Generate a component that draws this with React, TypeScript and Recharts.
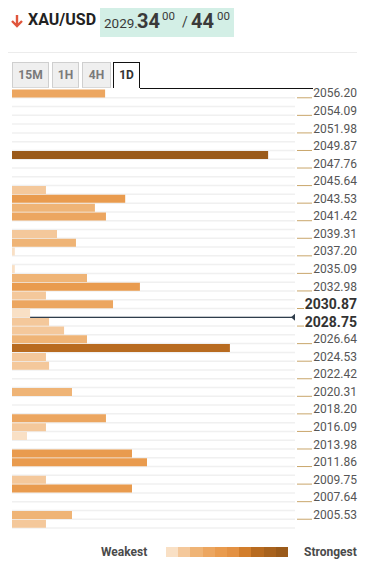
import React from "react";
import { BarChart, Bar, XAxis, YAxis, Cell, ReferenceLine, CartesianGrid } from "recharts";

// price levels shown on the right axis, top to bottom (one label every two rows)
const tickLabels = [
  "2056.20", "2054.09", "2051.98", "2049.87", "2047.76", "2045.64", "2043.53",
  "2041.42", "2039.31", "2037.20", "2035.09", "2032.98", "2030.87", "2028.75",
  "2026.64", "2024.53", "2022.42", "2020.31", "2018.20", "2016.09", "2013.98",
  "2011.86", "2009.75", "2007.64", "2005.53",
];
const boldLabels = ["2030.87", "2028.75"];

// confluence strength per row, from 2056.20 down to ~2004.5
const strength = [
  32.9, 0, 0, 0, 0, 0, 0, 90.5, 0, 0,
  0, 12, 40, 29.3, 33.2, 0, 15.9, 22.6, 1, 0,
  1, 26.5, 45.2, 12, 35.7, 6.4, 13.1, 18.4, 26.5, 77,
  12, 13.1, 0, 0, 21.2, 0, 0, 33.2, 12, 5.3,
  0, 42.4, 47.7, 0, 12, 42.4, 0, 0, 21.2, 12,
];

const palette = [
  "#f9e0c5", "#f4c89b", "#efb476", "#eca660", "#e99b4e",
  "#e39143", "#d27e2c", "#b86b20", "#a8621d", "#9a5a1a",
];

const bid = { big: "2029.", pips: "34", frac: "00" };
const ask = { pips: "44", frac: "00" };
const tabs = ["15M", "1H", "4H", "1D"];
const activeTab = "1D";

// current price sits on the lower edge of this row
const priceRow = 25;
const priceLineStart = 6.4;

const data = strength.map((v, i) => ({ row: i, strength: v }));

const colorFor = (v: number) => palette[Math.min(9, Math.floor(v / 10))];

const FONT = "Roboto, 'Noto Sans', sans-serif";

const PriceTick = (props: any) => {
  const { x, y, payload } = props;
  const i = Number(payload.value);
  if (i % 2 !== 0) return <g />;
  const label = tickLabels[i / 2];
  const bold = boldLabels.includes(label);
  return (
    <g>
      <line
        x1={x + 2}
        x2={bold ? x + 9 : x + 17}
        y1={y + 4.4}
        y2={y + 4.4}
        stroke="#c9a66b"
        strokeWidth={1}
      />
      <text
        x={x + 62}
        y={y}
        textAnchor="end"
        dominantBaseline="central"
        fontFamily={FONT}
        fontSize={bold ? 14 : 12}
        fontWeight={bold ? 700 : 400}
        fill={bold ? "#333" : "#555"}
      >
        {label}
      </text>
    </g>
  );
};

const PriceLine = (props: any) => {
  const { x1, y1, x2, y2 } = props;
  return (
    <g>
      <line x1={x1} y1={y1} x2={x2 - 3} y2={y2} stroke="#2f3d4c" strokeWidth={1.2} />
      <path d={`M${x2 - 4},${y2} L${x2},${y2 - 3.5} L${x2},${y2 + 3.5} Z`} fill="#2f3d4c" />
    </g>
  );
};

// grid lines on the row borders instead of the row centres
const rowBorders = ({ offset }: any) =>
  strength.map((_, i) => offset.top + (offset.height * (i + 1)) / strength.length);

export default function App() {
  return (
    <div style={{ position: "relative", width: 361, height: 552, fontFamily: FONT }}>
      {/* header */}
      <svg width={14} height={14} style={{ position: "absolute", left: 2, top: 6 }}>
        <path d="M7 1 L7 12 M2 7 L7 12 L12 7" stroke="#e0553c" strokeWidth={2.4} fill="none" />
      </svg>
      <div
        style={{
          position: "absolute", left: 20, top: 2, height: 20, lineHeight: "20px",
          fontSize: 16, fontWeight: 700, color: "#222",
        }}
      >
        XAU/USD
      </div>
      <div
        style={{
          position: "absolute", left: 92, top: -1, width: 134, height: 30,
          background: "#d3efe6", color: "#3a3a3a", whiteSpace: "nowrap",
        }}
      >
        <span style={{ position: "absolute", left: 4, top: 8, fontSize: 13.5 }}>{bid.big}</span>
        <span style={{ position: "absolute", left: 37, top: 2, fontSize: 20, fontWeight: 700 }}>{bid.pips}</span>
        <span style={{ position: "absolute", left: 62, top: 2, fontSize: 11.5 }}>{bid.frac}</span>
        <span style={{ position: "absolute", left: 82, top: 7, fontSize: 14 }}>/</span>
        <span style={{ position: "absolute", left: 91, top: 2, fontSize: 20, fontWeight: 700 }}>{ask.pips}</span>
        <span style={{ position: "absolute", left: 117, top: 2, fontSize: 11.5 }}>{ask.frac}</span>
      </div>
      <div style={{ position: "absolute", left: 0, top: 44, width: 349, height: 1, background: "#ececec" }} />

      {/* timeframe tabs */}
      {tabs.map((t, i) => {
        const lefts = [4, 44, 74, 105];
        const widths = [37, 27, 29, 27];
        const active = t === activeTab;
        return (
          <div
            key={t}
            style={{
              position: "absolute", left: lefts[i], top: 54, width: widths[i], height: 26,
              boxSizing: "border-box",
              border: active ? "1px solid #111" : "1px solid #cfcfcf",
              borderBottom: active ? "none" : "1px solid #d8d8d8",
              background: active ? "#fff" : "#efefef",
              color: active ? "#333" : "#7a7a7a",
              fontSize: 12, fontWeight: 700, textAlign: "center", lineHeight: "25px",
            }}
          >
            {t}
          </div>
        );
      })}
      <div style={{ position: "absolute", left: 132, top: 80, width: 173, height: 1, background: "#111" }} />

      {/* chart */}
      <div style={{ position: "absolute", left: 0, top: 73 }}>
        <BarChart
          layout="vertical"
          width={361}
          height={455}
          data={data}
          margin={{ top: 8, right: 0, bottom: 8, left: 4 }}
          barCategoryGap={0.5}
        >
          <CartesianGrid
            vertical={false}
            stroke="#f0f0f0"
            strokeWidth={1.5}
            horizontalCoordinatesGenerator={rowBorders}
          />
          <XAxis type="number" domain={[0, 100]} hide />
          <YAxis
            type="category"
            dataKey="row"
            orientation="right"
            width={74}
            axisLine={false}
            tickLine={false}
            tickSize={0}
            tickMargin={0}
            interval={0}
            tick={<PriceTick />}
          />
          <Bar dataKey="strength" isAnimationActive={false}>
            {data.map((d) => (
              <Cell key={d.row} fill={colorFor(d.strength)} />
            ))}
          </Bar>
          <ReferenceLine
            segment={[
              { x: priceLineStart, y: priceRow },
              { x: 100, y: priceRow },
            ]}
            position="end"
            ifOverflow="visible"
            shape={PriceLine}
          />
        </BarChart>
      </div>

      {/* strength legend */}
      <div
        style={{
          position: "absolute", left: 93, top: 536, height: 16, lineHeight: "16px",
          fontSize: 12, fontWeight: 700, color: "#4a4a4a",
        }}
      >
        Weakest
      </div>
      <div style={{ position: "absolute", left: 158, top: 539, width: 122, height: 10, display: "flex" }}>
        {palette.map((c) => (
          <div key={c} style={{ flex: 1, background: c }} />
        ))}
      </div>
      <div
        style={{
          position: "absolute", left: 296, top: 536, height: 16, lineHeight: "16px",
          fontSize: 12, fontWeight: 700, color: "#4a4a4a",
        }}
      >
        Strongest
      </div>
    </div>
  );
}
